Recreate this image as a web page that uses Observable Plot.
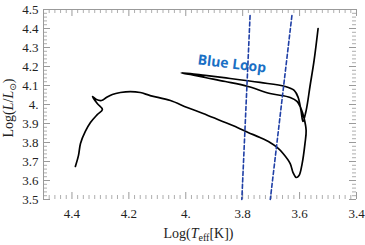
<!DOCTYPE html>
<html>
<head>
<meta charset="utf-8">
<script src="https://cdn.jsdelivr.net/npm/d3@7"></script>
<script src="https://cdn.jsdelivr.net/npm/@observablehq/plot@0.6"></script>
<style>
  html, body { margin: 0; padding: 0; background: #fff; }
  #chart svg { display: block; }
</style>
</head>
<body>
<div id="chart"></div>
<script>
// ---- Data ----
// Evolutionary track (log Teff, log L/Lsun)
const trackLogT = [4.388, 4.377, 4.370, 4.353, 4.335, 4.311, 4.293, 4.311, 4.328, 4.314, 4.296, 4.279, 4.258, 4.230, 4.195, 4.160, 4.125, 4.054, 3.995, 3.939, 3.879, 3.819, 3.781, 3.739, 3.704, 3.679, 3.658, 3.633, 3.623, 3.612, 3.602, 3.591, 3.581, 3.577, 3.584, 3.595, 3.609, 3.633, 3.704, 3.781, 3.861, 3.932, 3.984, 4.016, 3.984, 3.932, 3.844, 3.739, 3.651, 3.619, 3.605, 3.595, 3.588, 3.577, 3.563, 3.549, 3.535];
const trackLogL = [3.674, 3.732, 3.795, 3.858, 3.905, 3.947, 3.974, 4.005, 4.042, 4.026, 4.021, 4.037, 4.053, 4.063, 4.068, 4.063, 4.047, 4.021, 3.984, 3.953, 3.916, 3.879, 3.853, 3.826, 3.800, 3.774, 3.742, 3.689, 3.642, 3.616, 3.626, 3.689, 3.795, 3.863, 3.926, 3.979, 4.016, 4.037, 4.058, 4.095, 4.121, 4.142, 4.158, 4.166, 4.163, 4.153, 4.137, 4.116, 4.095, 4.074, 4.037, 3.968, 3.911, 3.968, 4.100, 4.232, 4.400];
// Instability strip edges
const blueEdgeLogT = [3.774, 3.803];
const blueEdgeLogL = [4.468, 3.500];
const redEdgeLogT = [3.627, 3.703];
const redEdgeLogL = [4.468, 3.500];
// Annotation
const noteText = ["Blue Loop"];
const noteLogT = [3.838];
const noteLogL = [4.213];
// Axes
const xDomain = [4.5, 3.4];
const yDomain = [3.5, 4.5];
const xTickValues = [4.4, 4.2, 4.0, 3.8, 3.6, 3.4];
const xTickLabels = ["4.4", "4.2", "4.", "3.8", "3.6", "3.4"];
const yTickValues = [3.5, 3.6, 3.7, 3.8, 3.9, 4.0, 4.1, 4.2, 4.3, 4.4, 4.5];
const yTickLabels = ["3.5", "3.6", "3.7", "3.8", "3.9", "4.", "4.1", "4.2", "4.3", "4.4", "4.5"];

// ---- Build ----
const track = trackLogT.map((t, i) => ({t, l: trackLogL[i]}));
const edge1 = blueEdgeLogT.map((t, i) => ({t, l: blueEdgeLogL[i]}));
const edge2 = redEdgeLogT.map((t, i) => ({t, l: redEdgeLogL[i]}));
const notes = noteText.map((s, i) => ({s, t: noteLogT[i], l: noteLogL[i]}));
const xMinor = d3.range(4.48, 3.399, -0.02).map(v => +v.toFixed(2)).filter(v => !xTickValues.some(m => Math.abs(m - v) < 1e-6));
const yMinor = d3.range(3.52, 4.5, 0.02).map(v => +v.toFixed(2)).filter(v => !yTickValues.some(m => Math.abs(m - v) < 1e-6));

const W = 365, H = 245, mL = 43, mR = 9, mT = 9, mB = 46;
const plotW = W - mL - mR, plotH = H - mT - mB;
const tickCol = "#9a9a9a";
const majLen = 7, minLen = 4;
const xfmt = d => xTickLabels[xTickValues.findIndex(v => Math.abs(v - d) < 1e-6)];
const yfmt = d => yTickLabels[yTickValues.findIndex(v => Math.abs(v - d) < 1e-6)];

const chart = Plot.plot({
  width: W, height: H,
  marginLeft: mL, marginRight: mR, marginTop: mT, marginBottom: mB,
  style: {fontFamily: "'Liberation Serif', 'DejaVu Serif', serif", fontSize: "13px", color: "#222", background: "#fff"},
  x: {domain: xDomain},
  y: {domain: yDomain},
  marks: [
    // axis lines (left, top)
    Plot.ruleX([xDomain[0]], {stroke: tickCol, strokeWidth: 1}),
    Plot.ruleY([yDomain[1]], {stroke: tickCol, strokeWidth: 1}),
    // bottom ticks
    Plot.tickX(xTickValues, {x: d => d, insetTop: plotH - majLen, stroke: tickCol}),
    Plot.tickX(xMinor, {x: d => d, insetTop: plotH - minLen, stroke: tickCol, strokeOpacity: 0.8}),
    // top ticks
    Plot.tickX(xTickValues, {x: d => d, insetBottom: plotH - majLen, stroke: tickCol}),
    Plot.tickX(xMinor, {x: d => d, insetBottom: plotH - minLen, stroke: tickCol, strokeOpacity: 0.8}),
    // left ticks
    Plot.tickY(yTickValues, {y: d => d, insetRight: plotW - majLen, stroke: tickCol}),
    Plot.tickY(yMinor, {y: d => d, insetRight: plotW - minLen, stroke: tickCol, strokeOpacity: 0.8}),
    // right ticks
    Plot.tickY(yTickValues, {y: d => d, insetLeft: plotW - majLen, stroke: tickCol}),
    Plot.tickY(yMinor, {y: d => d, insetLeft: plotW - minLen, stroke: tickCol, strokeOpacity: 0.8}),
    // tick labels
    Plot.axisX({ticks: xTickValues, tickFormat: xfmt, tickSize: 0, tickPadding: 9, label: null, fontSize: 13}),
    Plot.axisY({ticks: yTickValues, tickFormat: yfmt, tickSize: 0, tickPadding: 5, label: null, fontSize: 13}),
    // track
    Plot.line(track, {x: "t", y: "l", stroke: "#000", strokeWidth: 1.7, curve: "catmull-rom", strokeLinejoin: "round"}),
    // instability strip
    Plot.line(edge1, {x: "t", y: "l", stroke: "#1f3fa6", strokeWidth: 1.6, strokeDasharray: "4,2.5"}),
    Plot.line(edge2, {x: "t", y: "l", stroke: "#1f3fa6", strokeWidth: 1.6, strokeDasharray: "4,2.5"}),
    // annotation
    Plot.text(notes, {x: "t", y: "l", text: "s", rotate: 7, fill: "#1a6fc4", fontWeight: "bold", fontSize: 14, fontFamily: "'Open Sans', sans-serif"})
  ]
});

// Axis titles with italics and subscripts
const svg = d3.select(chart);
const serif = "'Liberation Serif', 'DejaVu Serif', serif";
const xt = svg.append("text")
  .attr("x", mL + plotW / 2 - 1).attr("y", H - 7)
  .attr("text-anchor", "middle").attr("font-family", serif).attr("font-size", 14).attr("fill", "#222");
xt.append("tspan").text("Log(");
xt.append("tspan").attr("font-style", "italic").text("T");
xt.append("tspan").attr("font-size", 10).attr("dy", 3).text("eff");
xt.append("tspan").attr("dy", -3).text("[K])");

const yt = svg.append("text")
  .attr("transform", `translate(13,${mT + plotH / 2 + 4}) rotate(-90)`)
  .attr("text-anchor", "middle").attr("font-family", serif).attr("font-size", 14).attr("fill", "#222");
yt.append("tspan").text("Log(");
yt.append("tspan").attr("font-style", "italic").text("L");
yt.append("tspan").text("/");
yt.append("tspan").attr("font-style", "italic").text("L");
yt.append("tspan").attr("font-size", 9).attr("dy", 3).attr("font-family", "'DejaVu Sans', sans-serif").text("⊙");
yt.append("tspan").attr("dy", -3).text(")");

document.getElementById("chart").appendChild(chart);
</script>
</body>
</html>
